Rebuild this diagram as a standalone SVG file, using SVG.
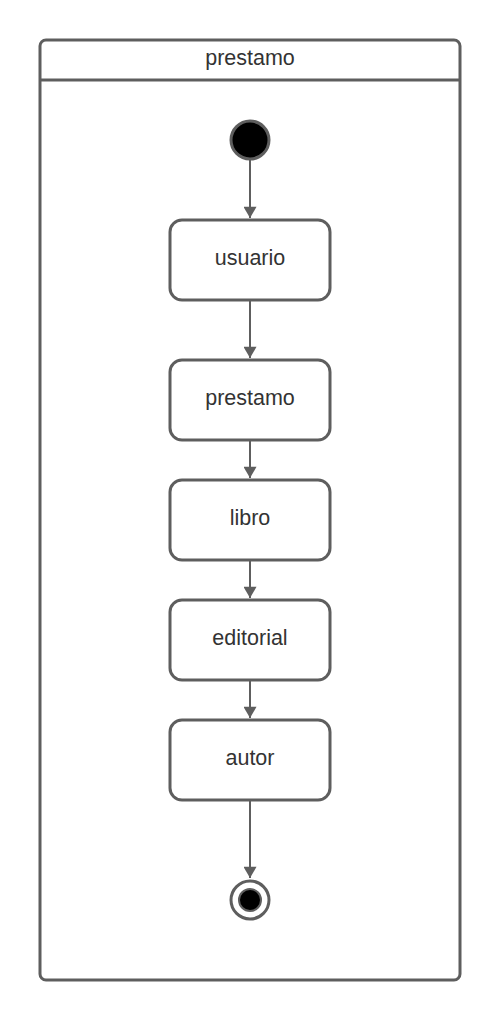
<svg xmlns="http://www.w3.org/2000/svg" width="500" height="1020" viewBox="0 0 500 1020">
<style>
.frame{fill:#fff;stroke:#5e5e5e;stroke-width:3}
.st{fill:#fff;stroke:#5e5e5e;stroke-width:3}
.lbl{font-family:"Liberation Sans",Arial,sans-serif;font-size:21.5px;fill:#333;text-anchor:middle;dominant-baseline:central}
.edge{stroke:#5e5e5e;stroke-width:2;fill:none}
</style>
<defs>
<marker id="arr" viewBox="0 0 12 14" refX="12" refY="7" markerWidth="15" markerHeight="13" markerUnits="userSpaceOnUse" orient="auto">
<path d="M0,0 L12,7 L0,14 Z" fill="#5e5e5e"/>
</marker>
</defs>
<rect width="500" height="1020" fill="#fff"/>
<g id="frame">
<rect class="frame" x="40" y="40" width="420" height="940" rx="6"/>
<line x1="40" y1="80" x2="460" y2="80" stroke="#5e5e5e" stroke-width="3"/>
<text class="lbl" x="250" y="58">prestamo</text>
</g>
<g id="edges">
<line class="edge" x1="250" y1="160" x2="250" y2="218" marker-end="url(#arr)"/>
<line class="edge" x1="250" y1="301" x2="250" y2="358" marker-end="url(#arr)"/>
<line class="edge" x1="250" y1="441" x2="250" y2="478" marker-end="url(#arr)"/>
<line class="edge" x1="250" y1="561" x2="250" y2="598" marker-end="url(#arr)"/>
<line class="edge" x1="250" y1="681" x2="250" y2="718" marker-end="url(#arr)"/>
<line class="edge" x1="250" y1="801" x2="250" y2="878" marker-end="url(#arr)"/>
</g>
<g id="start">
<circle cx="250" cy="140" r="19" fill="#000" stroke="#5e5e5e" stroke-width="3"/>
</g>
<g id="usuario">
<rect class="st" x="170" y="220" width="160" height="80" rx="12"/>
<text class="lbl" x="250" y="258">usuario</text>
</g>
<g id="prestamo">
<rect class="st" x="170" y="360" width="160" height="80" rx="12"/>
<text class="lbl" x="250" y="398">prestamo</text>
</g>
<g id="libro">
<rect class="st" x="170" y="480" width="160" height="80" rx="12"/>
<text class="lbl" x="250" y="518">libro</text>
</g>
<g id="editorial">
<rect class="st" x="170" y="600" width="160" height="80" rx="12"/>
<text class="lbl" x="250" y="638">editorial</text>
</g>
<g id="autor">
<rect class="st" x="170" y="720" width="160" height="80" rx="12"/>
<text class="lbl" x="250" y="758">autor</text>
</g>
<g id="end">
<circle cx="250" cy="900" r="19" fill="#fff" stroke="#5e5e5e" stroke-width="3"/>
<circle cx="250" cy="900" r="11" fill="#000" stroke="#5e5e5e" stroke-width="2"/>
</g>
</svg>
